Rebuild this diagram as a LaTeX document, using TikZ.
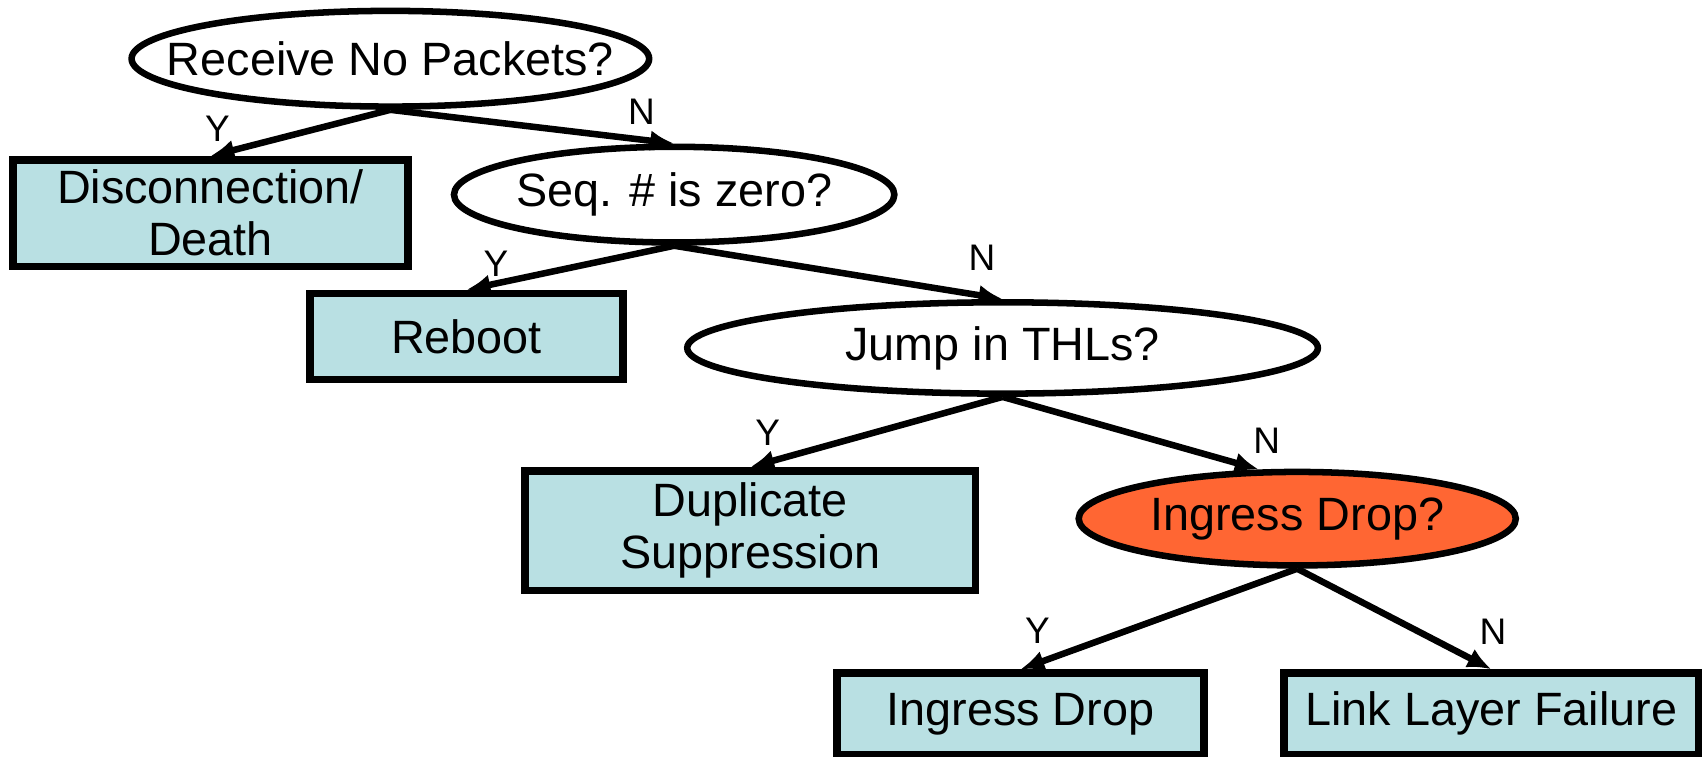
\documentclass[tikz,border=0pt]{standalone}
\usepackage{fontspec}
\setmainfont{Liberation Sans}
\usetikzlibrary{shapes.geometric,arrows.meta}
\definecolor{boxfill}{RGB}{185,224,227}
\definecolor{hot}{RGB}{255,102,51}
\begin{document}
\begin{tikzpicture}[x=1pt,y=-1pt,
 question/.style={ellipse,draw,line width=6pt,fill=white,inner sep=0pt,font=\fontsize{43}{48}\selectfont},
 outcome/.style={rectangle,draw,line width=7pt,fill=boxfill,inner sep=0pt,align=center,font=\fontsize{43}{48}\selectfont},
 flow/.style={line width=6pt,-{Latex[length=22pt,width=19pt]}},
 yn/.style={font=\fontsize{34}{38}\selectfont,inner sep=0pt}]
\useasboundingbox (0,0) rectangle (1568,696);
\node[question,minimum width=476pt,minimum height=88pt] (e1) at (359,54) {\makebox[0pt]{Receive No Packets?}};
\node[question,minimum width=405pt,minimum height=88pt] (e2) at (620,179) {\makebox[0pt]{Seq. \# is zero?}};
\node[question,minimum width=580pt,minimum height=84pt] (e3) at (922,320) {\makebox[0pt]{Jump in THLs?}};
\node[question,fill=hot,minimum width=402pt,minimum height=86pt] (e4) at (1193,477) {\makebox[0pt]{Ingress Drop?}};
\node[outcome,minimum width=363pt,minimum height=98pt] (b1) at (193.5,196) {Disconnection/\\Death};
\node[outcome,minimum width=288pt,minimum height=79pt] (b2) at (429,309.5) {Reboot};
\node[outcome,minimum width=414pt,minimum height=110pt] (b3) at (690,488) {Duplicate\\Suppression};
\node[outcome,minimum width=337pt,minimum height=75pt] (b4) at (938.5,656.5) {Ingress Drop};
\node[outcome,minimum width=381pt,minimum height=75pt] (b5) at (1371.5,656.5) {Link Layer Failure};
\draw[flow] (e1.south) -- (b1.north);
\draw[flow] (e1.south) -- (e2.north);
\draw[flow] (e2.south) -- (b2.north);
\draw[flow] (e2.south) -- (e3.north);
\draw[flow] (e3.south) -- (b3.north);
\draw[flow] (e3.south) -- (e4.128);
\draw[flow] (e4.south) -- (b4.north);
\draw[flow] (e4.south) -- (b5.north);
\node[yn] (y1) at (200,118) {Y};
\node[yn] (n1) at (590,103) {N};
\node[yn] (y2) at (456,243) {Y};
\node[yn] (n2) at (903,237) {N};
\node[yn] (y3) at (706,398) {Y};
\node[yn] (n3) at (1165,405) {N};
\node[yn] (y4) at (954,580) {Y};
\node[yn] (n4) at (1373,581) {N};
\end{tikzpicture}
\end{document}
